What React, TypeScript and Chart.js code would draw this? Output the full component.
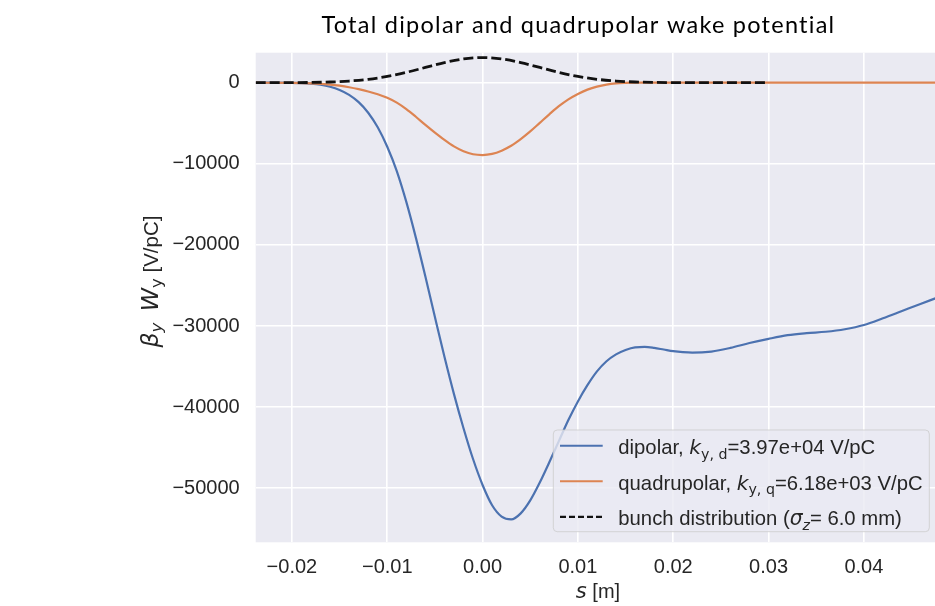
import React, { useEffect, useRef } from 'react';
import { Chart, registerables } from 'chart.js';

Chart.register(...registerables);

// ---------- text ----------
const TITLE = 'Total dipolar and quadrupolar wake potential';

// ---------- axis ranges / ticks ----------
const X_MIN = -0.0238;
const X_MAX = 0.04746;
const X_TICKS = [-0.02, -0.01, 0.0, 0.01, 0.02, 0.03, 0.04];
const Y_MIN = -56670;
const Y_MAX = 3700;
const Y_TICKS = [-50000, -40000, -30000, -20000, -10000, 0];

// ---------- data (s in m, wake in V/pC) ----------
const dipolarS = [
  -0.0238, -0.022, -0.020, -0.019, -0.018, -0.017, -0.016, -0.015, -0.014, -0.013,
  -0.012, -0.011, -0.010, -0.009, -0.008, -0.007, -0.006, -0.005, -0.004, -0.003,
  -0.002, -0.001, 0.000, 0.001, 0.002, 0.003, 0.004, 0.005, 0.006, 0.007,
  0.008, 0.009, 0.010, 0.011, 0.012, 0.013, 0.014, 0.015, 0.016, 0.017,
  0.018, 0.019, 0.020, 0.021, 0.022, 0.024, 0.026, 0.028, 0.030, 0.032,
  0.034, 0.036, 0.038, 0.040, 0.042, 0.044, 0.046, 0.0475,
];
const dipolarW = [
  0, 0, -10, -40, -110, -250, -500, -900, -1500, -2400,
  -3700, -5500, -7900, -10900, -14700, -19100, -23900, -28900, -33800, -38400,
  -42600, -46400, -49600, -52100, -53500, -53850, -53100, -51500, -49300, -46800,
  -44200, -41600, -39300, -37300, -35600, -34350, -33500, -32950, -32630, -32580,
  -32700, -32900, -33100, -33230, -33290, -33150, -32700, -32100, -31580, -31130,
  -30880, -30710, -30400, -29880, -29050, -28150, -27250, -26590,
];

const quadS = [
  -0.0238, -0.020, -0.018, -0.016, -0.015, -0.014, -0.013, -0.012, -0.011, -0.010,
  -0.009, -0.008, -0.007, -0.006, -0.005, -0.004, -0.003, -0.002, -0.001, 0.000,
  0.001, 0.002, 0.003, 0.004, 0.005, 0.006, 0.007, 0.008, 0.009, 0.010,
  0.011, 0.012, 0.013, 0.014, 0.015, 0.016, 0.020, 0.030, 0.040, 0.0475,
];
const quadW = [
  0, -20, -80, -230, -370, -560, -800, -1080, -1420, -1850,
  -2450, -3250, -4200, -5200, -6150, -7050, -7850, -8450, -8820, -8920,
  -8780, -8380, -7780, -6950, -6000, -4950, -3900, -2900, -2050, -1380,
  -850, -480, -230, -90, -30, 0, 0, 0, 0, 0,
];

const bunchS = [
  -0.0238, -0.022, -0.020, -0.018, -0.016, -0.014, -0.012, -0.010, -0.008, -0.006,
  -0.004, -0.002, 0.000, 0.002, 0.004, 0.006, 0.008, 0.010, 0.012, 0.014,
  0.016, 0.018, 0.020, 0.022, 0.024, 0.026, 0.028, 0.030,
];
const bunchW = [
  1, 4, 12, 34, 88, 204, 420, 773, 1274, 1880,
  2483, 2932, 3100, 2932, 2483, 1880, 1274, 773, 420, 204,
  88, 34, 12, 4, 1, 0, 0, 0,
];

// ---------- rich labels ----------
type Seg = { t: string; it?: boolean; sub?: boolean; math?: boolean };

const dipolarLabel: Seg[] = [
  { t: 'dipolar, ' },
  { t: 'k', it: true, math: true },
  { t: 'y, d', sub: true, math: true },
  { t: '=3.97e+04 V/pC' },
];
const quadLabel: Seg[] = [
  { t: 'quadrupolar, ' },
  { t: 'k', it: true, math: true },
  { t: 'y, q', sub: true, math: true },
  { t: '=6.18e+03 V/pC' },
];
const bunchLabel: Seg[] = [
  { t: 'bunch distribution (' },
  { t: 'σ', it: true, math: true },
  { t: 'z', it: true, sub: true, math: true },
  { t: '= 6.0 mm)' },
];
const yTitle: Seg[] = [
  { t: 'β', it: true, math: true },
  { t: 'y', it: true, sub: true, math: true },
  { t: '  ' },
  { t: 'W', it: true, math: true },
  { t: 'y', sub: true, math: true },
  { t: ' [V/pC]' },
];
const xTitle: Seg[] = [
  { t: 's', it: true, math: true },
  { t: ' [m]' },
];

const BLUE = '#4c72b0';
const ORANGE = '#dd8452';
const TEXT = '#262626';

function segFont(s: Seg, size: number, mathScale: number) {
  let sz = s.math ? size * mathScale : size;
  if (s.sub) sz *= 0.7;
  const fam = s.math ? '"DejaVu Sans", sans-serif' : '"Liberation Sans", Arial, sans-serif';
  return `${s.it ? 'italic ' : ''}${sz}px ${fam}`;
}

function richWidth(ctx: CanvasRenderingContext2D, segs: Seg[], size: number, mathScale: number) {
  let w = 0;
  for (const s of segs) {
    ctx.font = segFont(s, size, mathScale);
    w += ctx.measureText(s.t).width;
  }
  return w;
}

function drawRich(
  ctx: CanvasRenderingContext2D,
  segs: Seg[],
  x: number,
  baseline: number,
  size: number,
  align: 'left' | 'center',
  mathScale = 1,
) {
  let cx = x;
  if (align === 'center') cx = x - richWidth(ctx, segs, size, mathScale) / 2;
  ctx.textAlign = 'left';
  ctx.textBaseline = 'alphabetic';
  for (const s of segs) {
    ctx.font = segFont(s, size, mathScale);
    ctx.fillText(s.t, cx, s.sub ? baseline + size * 0.22 : baseline);
    cx += ctx.measureText(s.t).width;
  }
}

const decorPlugin = {
  id: 'decor',
  beforeDraw(chart: any) {
    const { ctx, chartArea: a } = chart;
    ctx.save();
    ctx.fillStyle = '#eaeaf2';
    ctx.fillRect(a.left, a.top, a.right - a.left, a.bottom - a.top);
    ctx.restore();
  },
  afterDraw(chart: any) {
    const { ctx, chartArea: a } = chart;
    ctx.save();
    // title
    ctx.fillStyle = '#000';
    ctx.font = '23.5px Lato, "Liberation Sans", sans-serif';
    ctx.textAlign = 'left';
    ctx.textBaseline = 'alphabetic';
    (ctx as any).letterSpacing = '1.25px';
    ctx.fillText(TITLE, 321.5, 33.3);
    (ctx as any).letterSpacing = '0px';

    // axis titles
    ctx.fillStyle = TEXT;
    drawRich(ctx, xTitle, 598, 598, 20, 'center', 1.05);
    ctx.save();
    ctx.translate(157.5, 281.5);
    ctx.rotate(-Math.PI / 2);
    drawRich(ctx, yTitle, 0, 0, 20.5, 'center', 1.15);
    ctx.restore();

    // legend
    const lw = 376;
    const lh = 101.7;
    const lx = a.right - 5.7 - lw;
    const ly = a.bottom - 10.6 - lh;
    ctx.beginPath();
    ctx.roundRect(lx, ly, lw, lh, 4);
    ctx.fillStyle = 'rgba(234,234,242,0.8)';
    ctx.fill();
    ctx.strokeStyle = 'rgba(204,204,204,0.8)';
    ctx.lineWidth = 1;
    ctx.stroke();

    const items = [
      { segs: dipolarLabel, color: BLUE, dash: [] as number[], w: 2 },
      { segs: quadLabel, color: ORANGE, dash: [] as number[], w: 2 },
      { segs: bunchLabel, color: '#111', dash: [6, 3], w: 2.2 },
    ];
    items.forEach((it, i) => {
      const base = ly + 24.3 + i * 35.5;
      ctx.beginPath();
      ctx.setLineDash(it.dash);
      ctx.strokeStyle = it.color;
      ctx.lineWidth = it.w;
      ctx.moveTo(lx + 6.7, base - 8.5);
      ctx.lineTo(lx + 49.4, base - 8.5);
      ctx.stroke();
      ctx.setLineDash([]);
      ctx.fillStyle = TEXT;
      drawRich(ctx, it.segs, lx + 65, base, 20.3, 'left');
    });
    ctx.restore();
  },
};

function fmtX(v: number) {
  if (Math.abs(v) < 1e-9) return '0.00';
  return v.toFixed(2).replace('-', '\u2212');
}
function fmtY(v: number) {
  if (Math.abs(v) < 1e-6) return '0';
  return String(Math.round(v)).replace('-', '\u2212');
}

export default function App() {
  const ref = useRef<HTMLCanvasElement | null>(null);
  useEffect(() => {
    if (!ref.current) return;
    const toPts = (xs: number[], ys: number[]) => xs.map((x, i) => ({ x, y: ys[i] }));
    const chart = new Chart(ref.current, {
      type: 'line',
      data: {
        datasets: [
          {
            label: 'dipolar',
            data: toPts(dipolarS, dipolarW),
            borderColor: BLUE,
            borderWidth: 2.2,
            pointRadius: 0,
            cubicInterpolationMode: 'monotone',
            order: 3,
          },
          {
            label: 'quadrupolar',
            data: toPts(quadS, quadW),
            borderColor: ORANGE,
            borderWidth: 2.2,
            pointRadius: 0,
            cubicInterpolationMode: 'monotone',
            order: 2,
          },
          {
            label: 'bunch distribution',
            data: toPts(bunchS, bunchW),
            borderColor: '#111',
            borderWidth: 2.8,
            borderDash: [10, 4],
            pointRadius: 0,
            cubicInterpolationMode: 'monotone',
            order: 1,
          },
        ],
      },
      options: {
        animation: false,
        responsive: false,
        devicePixelRatio: 1,
        layout: { padding: { top: 52.7, left: 0, right: 0, bottom: 0 } },
        plugins: {
          legend: { display: false },
          title: { display: false },
          tooltip: { enabled: false },
        },
        scales: {
          x: {
            type: 'linear',
            min: X_MIN,
            max: X_MAX,
            border: { display: false },
            grid: { color: '#ffffff', lineWidth: 1.6, drawTicks: false },
            afterBuildTicks: (s: any) => { s.ticks = X_TICKS.map((value) => ({ value })); },
            ticks: {
              padding: 13,
              color: TEXT,
              font: { family: '"Liberation Sans", Arial, sans-serif', size: 20 },
              maxRotation: 0,
              autoSkip: false,
              callback: (v: any) => fmtX(Number(v)),
            },
            afterFit: (s: any) => { s.height = 63.7; },
          },
          y: {
            type: 'linear',
            min: Y_MIN,
            max: Y_MAX,
            border: { display: false },
            grid: { color: '#ffffff', lineWidth: 1.6, drawTicks: false },
            afterBuildTicks: (s: any) => { s.ticks = Y_TICKS.map((value) => ({ value })); },
            ticks: {
              padding: 16,
              color: TEXT,
              font: { family: '"Liberation Sans", Arial, sans-serif', size: 20 },
              autoSkip: false,
              callback: (v: any) => fmtY(Number(v)),
            },
            afterFit: (s: any) => { s.width = 255.7; },
          },
        },
      } as any,
      plugins: [decorPlugin],
    });
    return () => chart.destroy();
  }, []);
  return (
    <div style={{ position: 'fixed', left: 0, top: 0, width: 935, height: 606, background: '#fff' }}>
      <canvas ref={ref} width={935} height={606} style={{ display: 'block' }} />
    </div>
  );
}
